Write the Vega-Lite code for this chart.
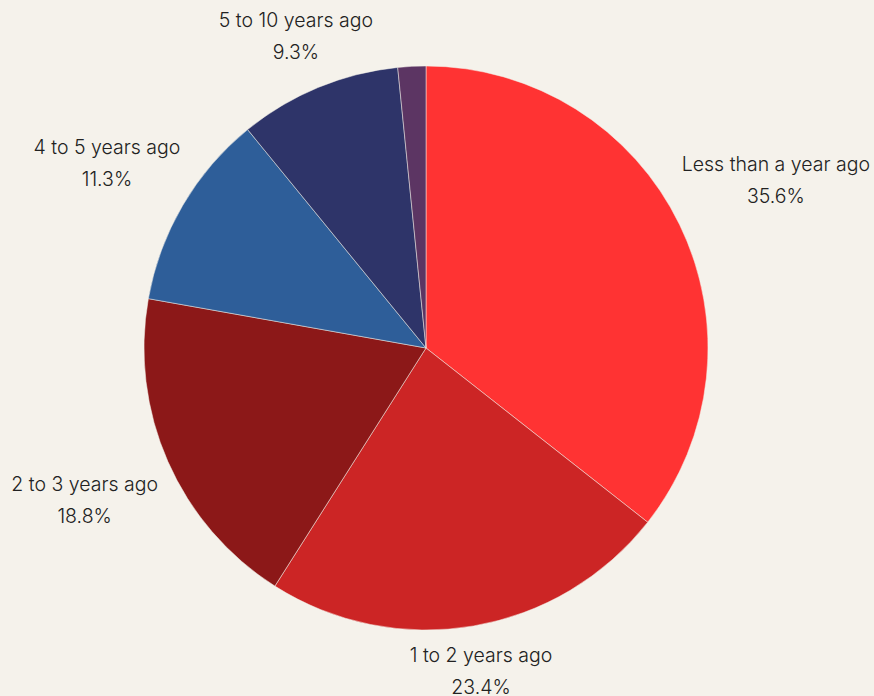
{
  "$schema": "https://vega.github.io/schema/vega-lite/v6.json",
  "autosize": "none",
  "padding": {"left": 0, "top": 0, "right": 22, "bottom": 0},
  "width": 852,
  "height": 696,
  "background": "#F5F2EB",
  "view": {"stroke": null},
  "data": {
    "values": [
      {"order": 1, "category": "Less than a year ago", "share": 35.6},
      {"order": 2, "category": "1 to 2 years ago", "share": 23.4},
      {"order": 3, "category": "2 to 3 years ago", "share": 18.8},
      {"order": 4, "category": "4 to 5 years ago", "share": 11.3},
      {"order": 5, "category": "5 to 10 years ago", "share": 9.3},
      {"order": 6, "category": "More than 10 years ago", "share": 1.6}
    ]
  },
  "encoding": {
    "theta": {"field": "share", "type": "quantitative", "stack": true},
    "order": {"field": "order", "type": "quantitative"}
  },
  "layer": [
    {
      "mark": {"type": "arc", "outerRadius": 282, "stroke": "#F5F2EB", "strokeWidth": 0.5},
      "encoding": {
        "color": {
          "field": "category",
          "type": "nominal",
          "legend": null,
          "scale": {
            "domain": ["Less than a year ago", "1 to 2 years ago", "2 to 3 years ago", "4 to 5 years ago", "5 to 10 years ago", "More than 10 years ago"],
            "range": ["#FF3333", "#CC2525", "#8C1818", "#2E5E99", "#2E3469", "#5C3563"]
          }
        }
      }
    },
    {
      "mark": {"type": "text", "radius": 389, "font": "Inter", "fontSize": 19.5, "fontWeight": 300, "color": "#222222", "lineHeight": 32, "baseline": "middle", "dy": -13, "align": "center"},
      "encoding": {"text": {"condition": {"test": "datum.order == 1", "value": ["Less than a year ago", "35.6%"]}, "value": ""}}
    },
    {
      "mark": {"type": "text", "radius": 326, "font": "Inter", "fontSize": 19.5, "fontWeight": 300, "color": "#222222", "lineHeight": 32, "baseline": "middle", "dy": -13, "align": "center"},
      "encoding": {"text": {"condition": {"test": "datum.order == 2", "value": ["1 to 2 years ago", "23.4%"]}, "value": ""}}
    },
    {
      "mark": {"type": "text", "radius": 373, "font": "Inter", "fontSize": 19.5, "fontWeight": 300, "color": "#222222", "lineHeight": 32, "baseline": "middle", "dy": -13, "align": "center"},
      "encoding": {"text": {"condition": {"test": "datum.order == 3", "value": ["2 to 3 years ago", "18.8%"]}, "value": ""}}
    },
    {
      "mark": {"type": "text", "radius": 370, "font": "Inter", "fontSize": 19.5, "fontWeight": 300, "color": "#222222", "lineHeight": 32, "baseline": "middle", "dy": -13, "align": "center"},
      "encoding": {"text": {"condition": {"test": "datum.order == 4", "value": ["4 to 5 years ago", "11.3%"]}, "value": ""}}
    },
    {
      "mark": {"type": "text", "radius": 340, "font": "Inter", "fontSize": 19.5, "fontWeight": 300, "color": "#222222", "lineHeight": 32, "baseline": "middle", "dy": -13, "align": "center"},
      "encoding": {"text": {"condition": {"test": "datum.order == 5", "value": ["5 to 10 years ago", "9.3%"]}, "value": ""}}
    }
  ]
}
